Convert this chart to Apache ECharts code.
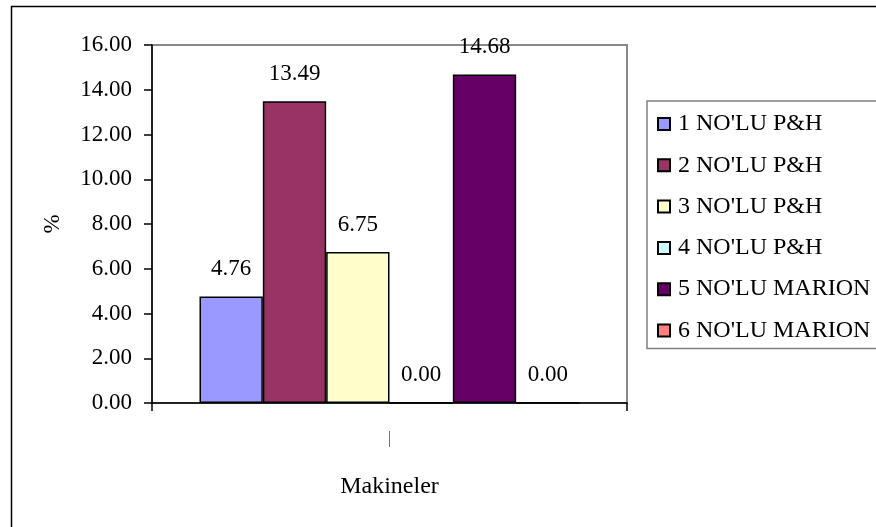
<!DOCTYPE html>
<html>
<head>
<meta charset="utf-8">
<script src="https://cdn.jsdelivr.net/npm/echarts@6/dist/echarts.min.js"></script>
<style>
  html, body { margin: 0; padding: 0; background: #fff; }
  #chart { width: 876px; height: 527px; }
</style>
</head>
<body>
<div id="chart"></div>
<script>
// Machine availability shares (%), one bar per machine
const categories = ['|'];
const seriesNames = ["1 NO'LU P&H", "2 NO'LU P&H", "3 NO'LU P&H", "4 NO'LU P&H", "5 NO'LU MARION", "6 NO'LU MARION"];
const seriesValues = [4.76, 13.49, 6.75, 0.00, 14.68, 0.00];
const seriesColors = ['#9999FF', '#993366', '#FFFFCC', '#CCFFFF', '#660066', '#FF8080'];
const yTicks = { min: 0, max: 16, interval: 2 };

const FONT = '"Liberation Serif", "Times New Roman", serif';

const chart = echarts.init(document.getElementById('chart'), null, { renderer: 'canvas' });

const series = seriesNames.map((name, i) => ({
  name: name,
  type: 'bar',
  data: [seriesValues[i]],
  barGap: '0%',
  barCategoryGap: '20%',
  itemStyle: { color: seriesColors[i], borderColor: '#000', borderWidth: 1.5 },
  label: {
    show: true,
    position: 'top',
    distance: 16,
    formatter: p => p.value.toFixed(2),
    fontFamily: FONT,
    fontSize: 23,
    color: '#000'
  },
  emphasis: { disabled: true }
}));

chart.setOption({
  animation: false,
  backgroundColor: '#fff',
  textStyle: { fontFamily: FONT },
  grid: {
    left: 152, right: 249, top: 45, bottom: 124,
    show: true, borderColor: '#888', borderWidth: 2, backgroundColor: 'transparent'
  },
  legend: {
    orient: 'vertical',
    left: 647, top: 101,
    padding: [11, 12, 6, 10],
    itemGap: 17.3,
    itemWidth: 12, itemHeight: 12,
    borderColor: '#808080', borderWidth: 1.5,
    icon: 'rect',
    textStyle: { fontFamily: FONT, fontSize: 24, color: '#000', lineHeight: 24, padding: [0, 0, 0, 3] },
    data: seriesNames
  },
  xAxis: {
    type: 'category',
    data: categories,
    name: 'Makineler',
    nameLocation: 'middle',
    nameGap: 72,
    nameTextStyle: { fontFamily: FONT, fontSize: 24, color: '#000' },
    axisLine: { show: true, lineStyle: { color: '#000', width: 1.5 } },
    axisTick: { show: true, length: 8, lineStyle: { color: '#000', width: 1.5 } },
    axisLabel: { margin: 28, fontFamily: FONT, fontSize: 16, color: '#555' },
    splitLine: { show: false }
  },
  yAxis: {
    type: 'value',
    min: yTicks.min, max: yTicks.max, interval: yTicks.interval,
    name: '%',
    nameLocation: 'middle',
    nameGap: 88,
    nameRotate: 90,
    nameTextStyle: { fontFamily: FONT, fontSize: 23, color: '#000' },
    axisLine: { show: true, lineStyle: { color: '#000', width: 1.5 } },
    axisTick: { show: true, length: 8, lineStyle: { color: '#000', width: 1.5 } },
    axisLabel: {
      margin: 20,
      formatter: v => v.toFixed(2),
      fontFamily: FONT, fontSize: 23, color: '#000'
    },
    splitLine: { show: false }
  },
  graphic: [{
    type: 'rect',
    left: 9, top: 4,
    shape: { width: 900, height: 600 },
    style: { fill: 'none', stroke: '#000', lineWidth: 1.5 },
    silent: true
  }],
  series: series
});
</script>
</body>
</html>
